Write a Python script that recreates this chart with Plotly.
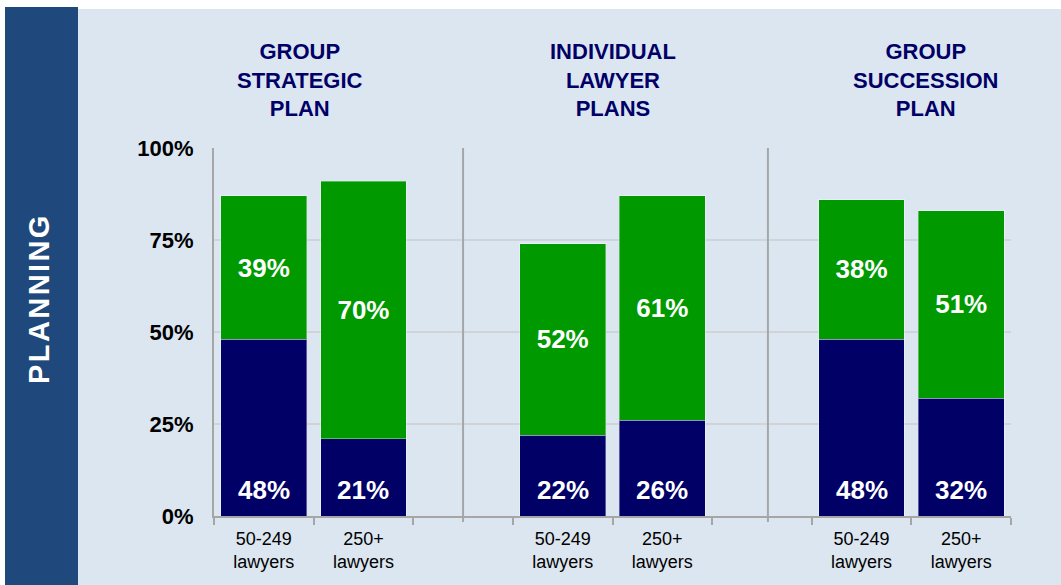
import plotly.graph_objects as go

# data
groups = ["GROUP<br>STRATEGIC<br>PLAN", "INDIVIDUAL<br>LAWYER<br>PLANS", "GROUP<br>SUCCESSION<br>PLAN"]
firm_sizes = ["50-249<br>lawyers", "250+<br>lawyers"]
navy_vals = [48, 21, 22, 26, 48, 32]
green_vals = [39, 70, 52, 61, 38, 51]
y_ticks = [0, 25, 50, 75, 100]
y_tick_labels = ["0%", "25%", "50%", "75%", "100%"]
side_label = "PLANNING"

W, H = 1061, 585
L, R, T, B = 214, 50, 148, 69
FONT = "Liberation Sans, Arial, sans-serif"
NAVY = "#000066"
GREEN = "#009900"
BG = "#DCE6F1"
BAND = "#1F497D"
AXIS = "#A6A6A6"

# one empty slot between groups
xpos = [3 * g + s for g in range(len(groups)) for s in range(len(firm_sizes))]
xlabels = [firm_sizes[s] for g in range(len(groups)) for s in range(len(firm_sizes))]


def px_x(p):
    return (p - L) / (W - L - R)


def px_y(p):
    return (H - B - p) / (H - T - B)


fig = go.Figure()
fig.add_trace(go.Bar(
    x=xpos, y=navy_vals, width=0.86,
    marker=dict(color=NAVY, line=dict(color="rgba(255,255,255,0.35)", width=1)),
    hoverinfo="skip", showlegend=False,
))
fig.add_trace(go.Bar(
    x=xpos, y=green_vals, width=0.86,
    marker=dict(color=GREEN, line=dict(color="rgba(255,255,255,0.35)", width=1)),
    text=[f"{v}%" for v in green_vals], textposition="inside",
    insidetextanchor="middle",
    textfont=dict(family=FONT, size=26, color="white", weight="bold"),
    hoverinfo="skip", showlegend=False,
))

annotations = []
# navy labels sit near the bar base
for x, v in zip(xpos, navy_vals):
    annotations.append(dict(
        x=x, y=0, xref="x", yref="y", yshift=26, yanchor="middle",
        text=f"<b>{v}%</b>", showarrow=False,
        font=dict(family=FONT, size=26, color="white"),
    ))

# group titles
title_x = [0.36, 3.5, 6.64]
for gx, g in zip(title_x, groups):
    annotations.append(dict(
        x=gx, y=px_y(80), xref="x", yref="paper", yanchor="middle",
        text=f"<b>{g}</b>", showarrow=False,
        font=dict(family=FONT, size=22, color=NAVY),
    ))

# side band label
annotations.append(dict(
    x=px_x(39), y=px_y(300), xref="paper", yref="paper",
    xanchor="center", yanchor="middle", textangle=-90,
    text="<b>" + "\u200a".join(side_label) + "</b>", showarrow=False,
    font=dict(family=FONT, size=29, color="white"),
))

shapes = [
    dict(type="rect", xref="paper", yref="paper", layer="below",
         x0=px_x(78), x1=px_x(W), y0=px_y(H), y1=px_y(9),
         fillcolor=BG, line=dict(width=0)),
    dict(type="rect", xref="paper", yref="paper", layer="below",
         x0=px_x(5), x1=px_x(78), y0=px_y(H), y1=px_y(7),
         fillcolor=BAND, line=dict(width=0)),
]
# separators between groups
for sx in [2, 5.06]:
    shapes.append(dict(type="line", xref="x", yref="paper",
                       x0=sx, x1=sx, y0=px_y(522), y1=1.0,
                       line=dict(color=AXIS, width=2)))

fig.update_layout(
    width=W, height=H,
    barmode="stack",
    margin=dict(l=L, r=R, t=T, b=B),
    paper_bgcolor="white",
    plot_bgcolor="rgba(0,0,0,0)",
    shapes=shapes,
    annotations=annotations,
    xaxis=dict(
        range=[-0.5, 7.5], tickvals=xpos, ticktext=xlabels, ticks="",
        showline=True, linecolor=AXIS, linewidth=2, showgrid=False, zeroline=False,
        tickfont=dict(family=FONT, size=18, color="black"),
        ticklabelstandoff=5,
        minor=dict(tickvals=[i - 0.5 for i in range(9)], ticks="outside",
                   ticklen=7, tickwidth=2, tickcolor=AXIS, showgrid=False),
    ),
    yaxis=dict(
        range=[0, 100], tickvals=y_ticks, ticktext=y_tick_labels, ticks="",
        showline=True, linecolor=AXIS, linewidth=2,
        showgrid=True, gridcolor="#D0D4D9", gridwidth=1.5, zeroline=False,
        tickfont=dict(family=FONT, size=22, color="black", weight="bold"),
        ticklabelstandoff=14,
    ),
)

# drop the default page margin so the figure sits at the window's corner
fig.write_html("out.html", config={"displayModeBar": False},
               post_script="document.body.style.margin='0';")
